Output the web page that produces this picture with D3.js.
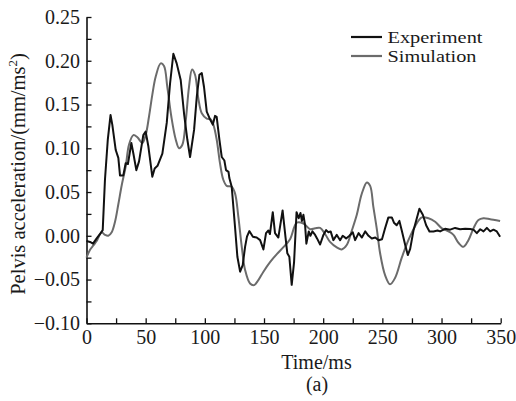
<!DOCTYPE html>
<html>
<head>
<meta charset="utf-8">
<script src="https://cdn.jsdelivr.net/npm/d3@7"></script>
<style>
  body { margin: 0; background: #fff; }
  svg { display: block; }
  text { font-family: "Liberation Serif", "Times New Roman", serif; fill: #1a1a1a; }
</style>
</head>
<body>
<svg id="chart" width="516" height="401"></svg>
<script>
// ---- data ----
const seriesNames = ["Experiment", "Simulation"];
const seriesColors = ["#111111", "#6b6b6b"];

const expTime = [0,3,5.5,8.6,12,13.7,15.6,18,20.3,21.8,24.7,26.9,28.3,31.1,33.1,35,37.9,39.6,42.1,44.4,48,50,52.3,55.6,57.6,60,64.1,67.8,70.6,73.4,76.2,79.6,82.4,85.2,87.5,90.9,93.2,95.4,97.4,99.3,101.6,104.4,106.7,108.6,110,112.3,114.3,116.5,117.9,120,120.7,122.7,125.5,127.5,129.8,132,134,135.6,137.6,140.6,143.8,146.7,149.5,151.7,153.7,155,157.4,159.3,162.1,165.7,168.2,169.7,171.4,173.4,175.4,177.5,179.3,180.8,182,183.3,184.7,185.8,187.8,189.2,190.9,193.2,194.8,197.4,200.2,202.5,204.4,206.3,208.6,211.5,214.3,216.5,219.4,222.2,225,227,229.9,232.7,235.5,238.3,241.1,244,246.8,249.7,252.3,255.1,258,259.8,262.1,264.4,266.4,269.2,271.5,273.5,276.3,281.3,284.2,287,289.8,293.2,296.6,298.8,303,307.3,311.5,315.7,320,324.2,327,329.8,332.7,335.5,338.3,341.1,343.9,346.7,349.5];
const expValue = [-0.006,-0.007,-0.009,-0.003,0.003,0.0065,0.064,0.11,0.138,0.127,0.098,0.089,0.069,0.069,0.083,0.082,0.106,0.094,0.075,0.085,0.115,0.119,0.102,0.0675,0.077,0.08,0.094,0.129,0.174,0.208,0.197,0.178,0.14,0.11,0.09,0.121,0.159,0.184,0.186,0.17,0.142,0.133,0.127,0.137,0.136,0.11,0.09,0.086,0.075,0.073,0.066,0.056,0.01,-0.024,-0.041,-0.0335,-0.0126,-0.001,0.0054,-0.001,-0.002,-0.005,-0.0156,0.003,0.006,0.002,0.027,0.003,-0.002,0.029,-0.002,-0.02,-0.024,-0.056,-0.03,0.027,0.02,0.026,0.017,0.024,0.012,-0.009,0.005,0.0,0.005,0.001,-0.003,-0.01,0.001,0.0065,0.004,0.005,-0.005,0.001,-0.005,0.0,-0.003,0.0,0.004,-0.005,0.003,-0.002,0.005,0.0,-0.003,-0.002,-0.005,-0.004,0.0085,0.021,0.021,0.015,0.012,0.017,0.006,-0.01,-0.022,-0.015,0.006,0.031,0.024,0.012,0.005,0.005,0.006,0.005,0.008,0.007,0.009,0.0075,0.008,0.0077,0.007,0.003,0.0075,0.005,0.009,0.005,0.007,0.005,-0.001];

const simTime = [0,3,5.8,8.6,12.8,15.6,18.4,21.3,24.1,26.9,29.8,33.1,35.9,39.6,43,47.2,50,52.8,55.6,58.5,62.7,65.5,68.3,71.7,75.4,78.2,81,83.9,86.6,89.2,91.7,94.5,97.4,101.6,104.9,107.2,110,112.8,115.6,118.5,122.7,125.5,128.3,131.2,134,138.2,141.6,145.2,149.5,155.1,160.8,166.4,172,177.7,183.3,189,193.2,197.4,201.6,205.8,211.5,215.7,219.9,224.2,228.4,232.6,236.9,239.7,242.4,245.3,248.1,252.3,256.5,260.8,266.4,272,277.7,283.3,289,294.6,300.3,305.9,310.1,314.3,318.5,322.7,327,331.2,335.4,341.1,349.5];
const simValue = [-0.025,-0.016,-0.011,-0.006,0.004,0.001,0.0,0.004,0.016,0.036,0.058,0.079,0.104,0.115,0.1125,0.106,0.115,0.136,0.161,0.182,0.197,0.194,0.17,0.136,0.11,0.1,0.104,0.132,0.17,0.19,0.184,0.157,0.14,0.134,0.133,0.127,0.11,0.083,0.064,0.057,0.056,0.0485,0.022,-0.0126,-0.039,-0.0545,-0.0564,-0.0507,-0.041,-0.03,-0.021,-0.013,-0.004,0.015,0.014,0.0075,0.0085,0.009,0.002,-0.007,-0.0133,-0.0156,-0.0106,0.006,0.024,0.048,0.061,0.057,0.033,0.008,-0.02,-0.045,-0.0555,-0.048,-0.025,-0.005,0.011,0.021,0.02,0.016,0.0085,0.005,0.001,-0.008,-0.0126,-0.005,0.0085,0.018,0.02,0.019,0.017];

const xTicks = [0,25,50,75,100,125,150,175,200,225,250,275,300,325,350];
const xTickLabels = ["0","","50","","100","","150","","200","","250","","300","","350"];
const yTicks = [-0.1,-0.075,-0.05,-0.025,0,0.025,0.05,0.075,0.1,0.125,0.15,0.175,0.2,0.225,0.25];
const yTickLabels = ["\u22120.10","","\u22120.05","","0.00","","0.05","","0.10","","0.15","","0.20","","0.25"];

const xTitle = "Time/ms";
const yTitleMain = "Pelvis acceleration/(mm/ms";
const yTitleSup = "2";
const yTitleEnd = ")";
const caption = "(a)";

// ---- drawing ----
const svg = d3.select("#chart");
const x = d3.scaleLinear().domain([0, 350]).range([86.5, 500.7]);
const y = d3.scaleLinear().domain([-0.1, 0.25]).range([323.3, 17]);

const xAxis = d3.axisBottom(x)
  .tickValues(xTicks)
  .tickFormat((d, i) => xTickLabels[i])
  .tickSizeInner(-5).tickSizeOuter(0).tickPadding(7);
const yAxis = d3.axisLeft(y)
  .tickValues(yTicks)
  .tickFormat((d, i) => yTickLabels[i])
  .tickSizeInner(-5).tickSizeOuter(0).tickPadding(6.5);

const gx = svg.append("g").attr("transform", `translate(0,${y(-0.1)})`).call(xAxis);
const gy = svg.append("g").attr("transform", `translate(${x(0)},0)`).call(yAxis);
[gx, gy].forEach(g => {
  g.select(".domain").attr("stroke", "#111").attr("stroke-width", 1.6);
  g.selectAll(".tick line").attr("stroke", "#111").attr("stroke-width", 1.3);
  g.selectAll(".tick text").attr("font-size", 20).attr("font-family", "Liberation Serif, serif").attr("fill", "#1a1a1a");
});

// lines
const expData = expTime.map((t, i) => [t, expValue[i]]);
const simData = simTime.map((t, i) => [t, simValue[i]]);

svg.append("path").datum(simData)
  .attr("fill", "none").attr("stroke", seriesColors[1]).attr("stroke-width", 2)
  .attr("stroke-linejoin", "round")
  .attr("d", d3.line().x(d => x(d[0])).y(d => y(d[1])).curve(d3.curveCatmullRom.alpha(0.5)));

svg.append("path").datum(expData)
  .attr("fill", "none").attr("stroke", seriesColors[0]).attr("stroke-width", 2)
  .attr("stroke-linejoin", "round")
  .attr("d", d3.line().x(d => x(d[0])).y(d => y(d[1])));

// legend
const legendWidths = [95, 89];
const legend = svg.append("g");
seriesNames.forEach((name, i) => {
  const ly = 37 + i * 19;
  legend.append("line").attr("x1", 351).attr("x2", 382).attr("y1", ly).attr("y2", ly)
    .attr("stroke", seriesColors[i]).attr("stroke-width", 2.2);
  legend.append("text").attr("x", 387.5).attr("y", ly + 6)
    .attr("font-size", 16.5)
    .attr("textLength", legendWidths[i]).attr("lengthAdjust", "spacingAndGlyphs")
    .text(name);
});

// axis titles
svg.append("text").attr("x", 316.5).attr("y", 369).attr("text-anchor", "middle")
  .attr("font-size", 20).text(xTitle);
svg.append("text").attr("x", 317).attr("y", 391).attr("text-anchor", "middle")
  .attr("font-size", 20).text(caption);

const yt = svg.append("text")
  .attr("transform", "translate(25,174) rotate(-90)")
  .attr("text-anchor", "middle").attr("font-size", 20.5);
yt.append("tspan").text(yTitleMain);
yt.append("tspan").attr("font-size", 13).attr("dy", -8).text(yTitleSup);
yt.append("tspan").attr("dy", 8).text(yTitleEnd);
</script>
</body>
</html>
